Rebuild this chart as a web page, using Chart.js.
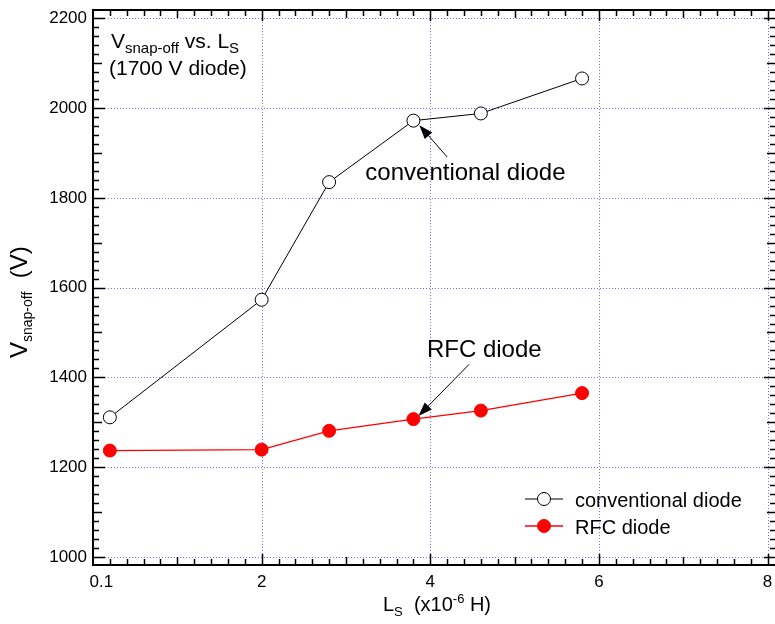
<!DOCTYPE html>
<html lang="en">
<head>
<meta charset="UTF-8">
<title>Vsnap-off vs. Ls</title>
<script src="https://cdn.jsdelivr.net/npm/chart.js"></script>
<style>
  html, body { margin: 0; padding: 0; background: #fff; overflow: hidden; }
  #wrap { width: 790px; height: 624px; }
</style>
</head>
<body>
<div id="wrap"><canvas id="snapChart" width="790" height="624"></canvas></div>
<script>
// data
const inductance = [0.2, 2.0, 2.8, 3.8, 4.6, 5.8];          // Ls (x10^-6 H)
const conventionalV = [1311, 1573, 1835, 1972, 1988, 2066];  // V
const rfcV = [1237, 1239, 1281, 1307, 1326, 1365];           // V
const xTickLabels = [0.1, 2, 4, 6, 8];
const yTickLabels = [1000, 1200, 1400, 1600, 1800, 2000, 2200];

const FONT = 'Arial, "Liberation Sans", sans-serif';
const GRID = '#7373ff';

function toPoints(xs, ys) {
  return xs.map((x, i) => ({ x: x, y: ys[i] }));
}

// text with sub/superscript parts
function drawRich(ctx, parts, x, y) {
  parts.forEach(p => {
    ctx.font = p.size + 'px ' + FONT;
    ctx.fillText(p.t, x, y + (p.dy || 0));
    x += ctx.measureText(p.t).width;
  });
}

function arrow(ctx, x0, y0, x1, y1) {
  const ang = Math.atan2(y1 - y0, x1 - x0);
  const hl = 14, hw = 5;
  const c = Math.cos(ang), s = Math.sin(ang);
  ctx.beginPath();
  ctx.moveTo(x0, y0);
  ctx.lineTo(x1 - c * hl * 0.8, y1 - s * hl * 0.8);
  ctx.stroke();
  ctx.beginPath();
  ctx.moveTo(x1, y1);
  ctx.lineTo(x1 - c * hl - s * hw, y1 - s * hl + c * hw);
  ctx.lineTo(x1 - c * hl + s * hw, y1 - s * hl - c * hw);
  ctx.closePath();
  ctx.fill();
}

const framePlugin = {
  id: 'frame',
  beforeDatasetsDraw(chart) {
    const { ctx, chartArea: a, scales: { x, y } } = chart;
    ctx.save();
    ctx.strokeStyle = GRID;
    ctx.lineWidth = 1;
    ctx.setLineDash([1, 2]);
    xTickLabels.filter(v => v >= 1).forEach(v => {
      const px = Math.round(x.getPixelForValue(v)) + 0.5;
      ctx.beginPath(); ctx.moveTo(px, a.top); ctx.lineTo(px, a.bottom); ctx.stroke();
    });
    yTickLabels.forEach(v => {
      const py = Math.round(y.getPixelForValue(v)) + 0.5;
      ctx.beginPath(); ctx.moveTo(a.left, py); ctx.lineTo(a.right, py); ctx.stroke();
    });
    ctx.restore();
  },
  afterDatasetsDraw(chart) {
    const { ctx, chartArea: a, scales: { x, y } } = chart;
    const ds = chart.data.datasets;
    ctx.save();

    // frame
    ctx.strokeStyle = '#000';
    ctx.lineWidth = 2;
    ctx.strokeRect(a.left, a.top, a.right - a.left, a.bottom - a.top);

    // inward ticks on all four sides
    ctx.lineWidth = 1.5;
    for (let v = 1000; v <= 2200; v += 20) {
      const len = v % 200 === 0 ? 12 : (v % 100 === 0 ? 9 : 6);
      const py = Math.round(y.getPixelForValue(v)) + 0.5;
      ctx.beginPath();
      ctx.moveTo(a.left, py); ctx.lineTo(a.left + len, py);
      ctx.moveTo(a.right, py); ctx.lineTo(a.right - len, py);
      ctx.stroke();
    }
    for (let k = 1; k <= 40; k++) {
      const len = k % 10 === 0 ? 11 : (k % 5 === 0 ? 8 : 6);
      const px = Math.round(x.getPixelForValue(k * 0.2)) + 0.5;
      ctx.beginPath();
      ctx.moveTo(px, a.bottom); ctx.lineTo(px, a.bottom - len);
      ctx.moveTo(px, a.top); ctx.lineTo(px, a.top + len);
      ctx.stroke();
    }

    // annotations
    ctx.fillStyle = '#000';
    ctx.lineWidth = 1;
    ctx.font = '24px ' + FONT;
    ctx.textAlign = 'left';
    ctx.textBaseline = 'alphabetic';
    ctx.fillText('conventional diode', x.getPixelForValue(3.23), y.getPixelForValue(1840));
    arrow(ctx, x.getPixelForValue(4.2), y.getPixelForValue(1891), x.getPixelForValue(3.87), y.getPixelForValue(1962));
    ctx.fillText('RFC diode', x.getPixelForValue(3.96), y.getPixelForValue(1446));
    arrow(ctx, x.getPixelForValue(4.46), y.getPixelForValue(1429), x.getPixelForValue(3.86), y.getPixelForValue(1314));

    // title box text
    drawRich(ctx, [
      { t: 'V', size: 21 },
      { t: 'snap-off', size: 15, dy: 5 },
      { t: ' vs. L', size: 21 },
      { t: 'S', size: 15, dy: 5 }
    ], a.left + 18, a.top + 38);
    drawRich(ctx, [{ t: '(1700 V diode)', size: 21 }], a.left + 16, a.top + 65);

    // legend
    const legY = [499, 526];
    ds.forEach((d, i) => {
      const ly = legY[i];
      ctx.strokeStyle = d.borderColor;
      ctx.lineWidth = d.borderWidth;
      ctx.beginPath(); ctx.moveTo(525, ly); ctx.lineTo(563, ly); ctx.stroke();
      ctx.beginPath();
      ctx.arc(544, ly, d.pointRadius, 0, Math.PI * 2);
      ctx.fillStyle = d.pointBackgroundColor;
      ctx.fill();
      ctx.lineWidth = d.pointBorderWidth;
      ctx.strokeStyle = d.pointBorderColor;
      ctx.stroke();
      ctx.fillStyle = '#000';
      ctx.font = '20px ' + FONT;
      ctx.fillText(d.label, 575, ly + 8);
    });

    // x axis title
    drawRich(ctx, [
      { t: 'L', size: 20 },
      { t: 'S', size: 13, dy: 5 },
      { t: '  (x10', size: 20 },
      { t: '-6', size: 13, dy: -8 },
      { t: ' H)', size: 20 }
    ], 383, 611);

    // y axis title (rotated, reads bottom to top)
    ctx.translate(27, 358);
    ctx.rotate(-Math.PI / 2);
    drawRich(ctx, [
      { t: 'V', size: 24 },
      { t: 'snap-off', size: 14, dy: 5 },
      { t: '  (V)', size: 24 }
    ], 0, 0);

    ctx.restore();
  }
};

new Chart(document.getElementById('snapChart'), {
  type: 'line',
  data: {
    datasets: [
      {
        label: 'conventional diode',
        data: toPoints(inductance, conventionalV),
        borderColor: '#000000',
        borderWidth: 1,
        pointRadius: 6.5,
        pointBorderWidth: 1,
        pointBackgroundColor: '#ffffff',
        pointBorderColor: '#000000',
        tension: 0
      },
      {
        label: 'RFC diode',
        data: toPoints(inductance, rfcV),
        borderColor: '#ff0000',
        borderWidth: 1.3,
        pointRadius: 6.5,
        pointBorderWidth: 1,
        pointBackgroundColor: '#ff0000',
        pointBorderColor: '#ff0000',
        tension: 0
      }
    ]
  },
  options: {
    responsive: false,
    animation: false,
    layout: { padding: { top: 10, right: 14, left: 0, bottom: 0 } },
    plugins: { legend: { display: false }, tooltip: { enabled: false } },
    scales: {
      x: {
        type: 'linear',
        min: 0,
        max: 8.1,
        grid: { display: false, drawTicks: false },
        border: { display: false },
        afterBuildTicks: s => { s.ticks = xTickLabels.map(v => ({ value: v })); },
        ticks: {
          font: { family: FONT, size: 17 },
          color: '#000',
          padding: 7,
          maxRotation: 0,
          autoSkip: false,
          callback: v => String(v)
        },
        afterFit: s => { s.height = 59; s.paddingLeft = 0; s.paddingRight = 0; }
      },
      y: {
        type: 'linear',
        min: 982,
        max: 2218.5,
        grid: { display: false, drawTicks: false },
        border: { display: false },
        afterBuildTicks: s => { s.ticks = yTickLabels.map(v => ({ value: v })); },
        ticks: {
          font: { family: FONT, size: 17 },
          color: '#000',
          padding: 6,
          autoSkip: false,
          callback: v => String(v)
        },
        afterFit: s => { s.width = 93; s.paddingTop = 0; s.paddingBottom = 0; }
      }
    }
  },
  plugins: [framePlugin]
});
</script>
</body>
</html>
